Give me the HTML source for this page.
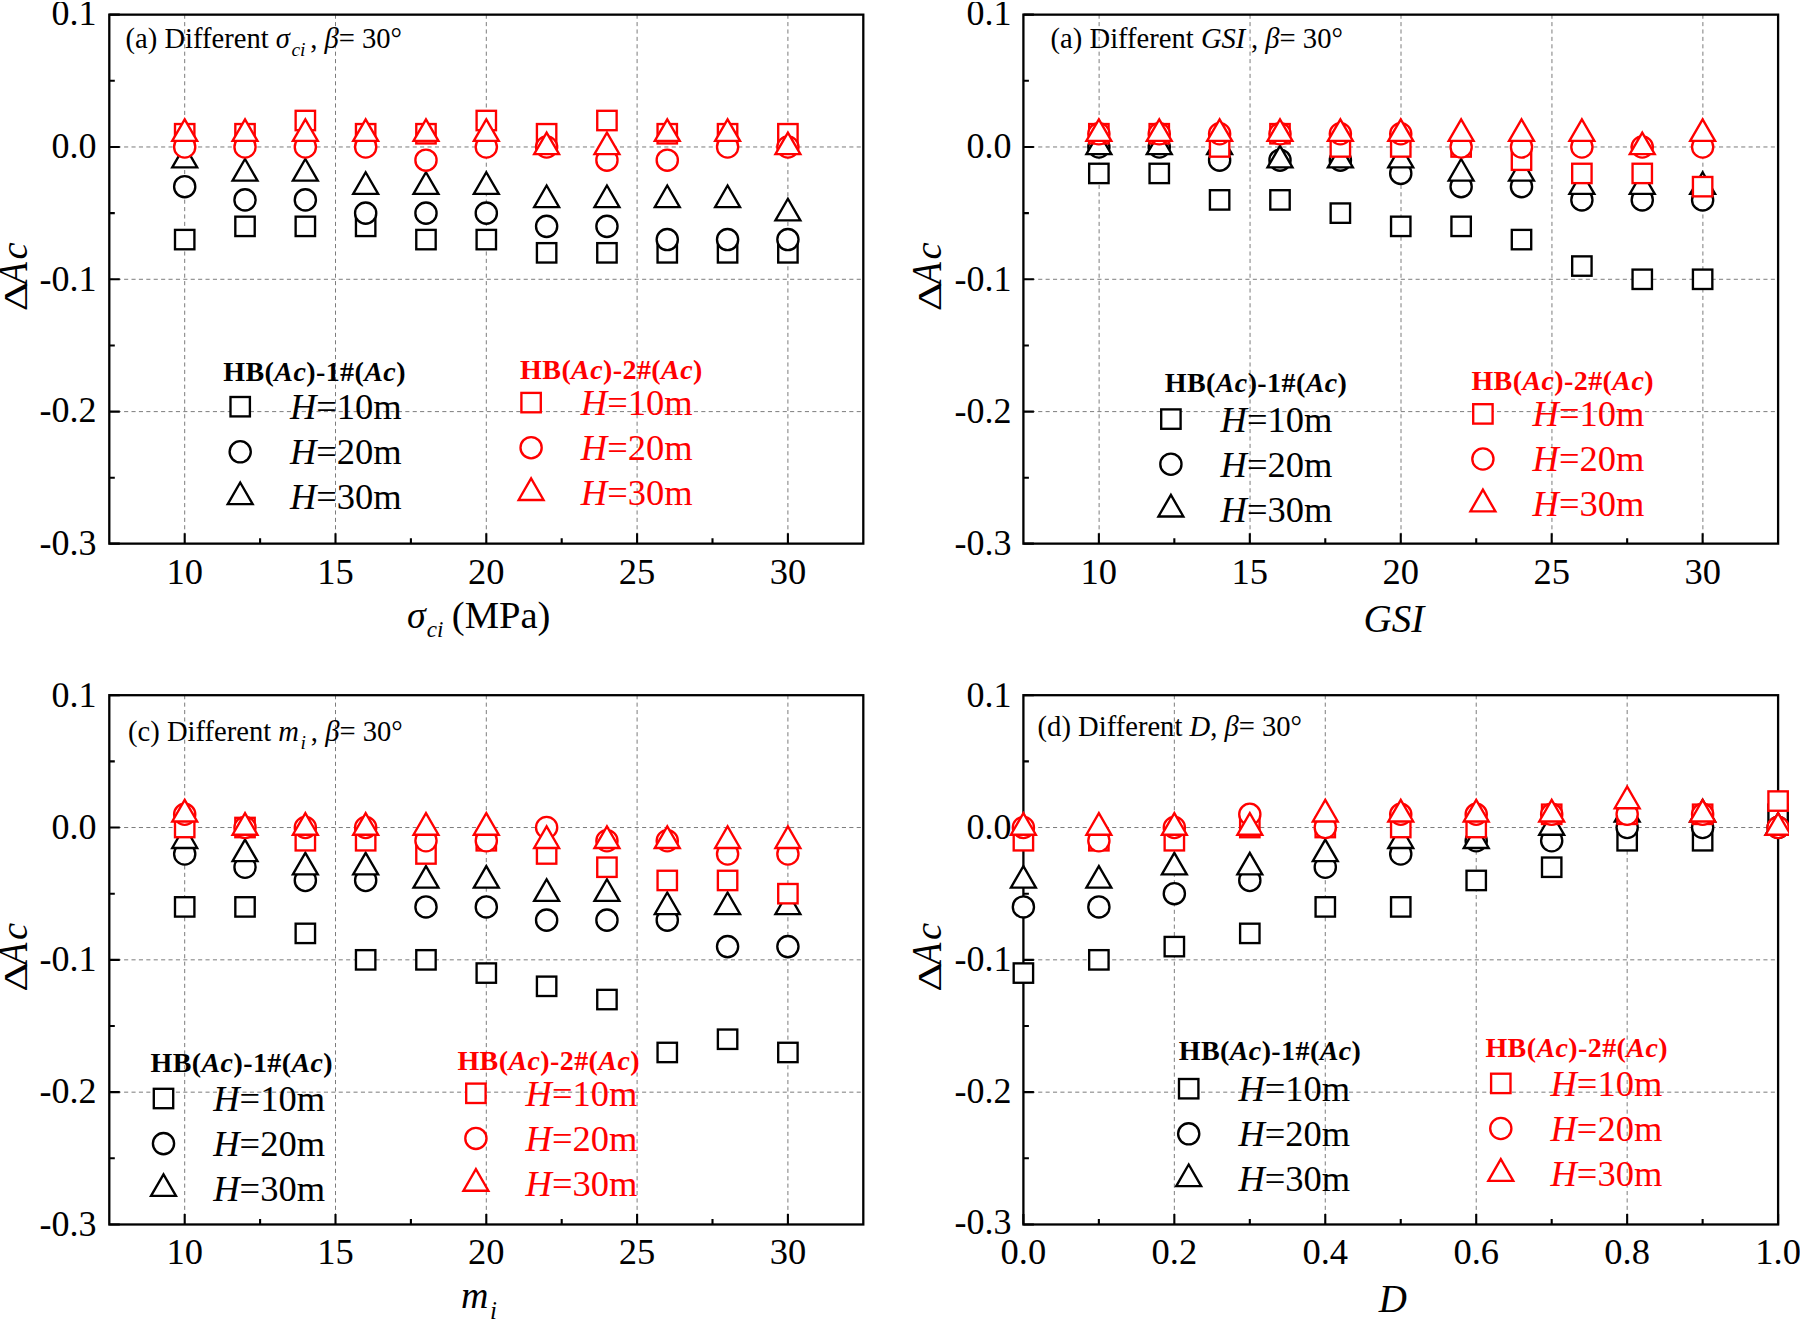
<!DOCTYPE html>
<html><head><meta charset="utf-8"><title>Figure</title>
<style>
html,body{margin:0;padding:0;background:#fff}
svg{display:block}
text{font-family:"Liberation Serif",serif;}
</style></head><body>
<svg width="1800" height="1320" viewBox="0 0 1800 1320">
<rect width="1800" height="1320" fill="#fff"/>
<defs>
<clipPath id="clip-a"><rect x="0" y="2" width="900" height="660"/></clipPath>
<clipPath id="clip-b"><rect x="900" y="2" width="900" height="660"/></clipPath>
<clipPath id="clip-c"><rect x="0" y="683.3" width="900" height="640"/></clipPath>
<clipPath id="clip-d"><rect x="900" y="683.3" width="900" height="640"/></clipPath>
<clipPath id="mclip-a"><rect x="0" y="0" width="900" height="1320"/></clipPath>
<clipPath id="mclip-b"><rect x="900" y="0" width="900" height="1320"/></clipPath>
<clipPath id="mclip-c"><rect x="0" y="0" width="900" height="1320"/></clipPath>
<clipPath id="mclip-d"><rect x="900" y="0" width="889" height="1320"/></clipPath>
</defs>

<g id="panel-a" clip-path="url(#clip-a)">
<g stroke="#7c7c7c" stroke-width="1" stroke-dasharray="4.1 3.3" fill="none">
<line x1="184.70" y1="14.65" x2="184.70" y2="543.93"/>
<line x1="335.50" y1="14.65" x2="335.50" y2="543.93"/>
<line x1="486.30" y1="14.65" x2="486.30" y2="543.93"/>
<line x1="637.10" y1="14.65" x2="637.10" y2="543.93"/>
<line x1="787.90" y1="14.65" x2="787.90" y2="543.93"/>
<line x1="109.30" y1="146.97" x2="863.30" y2="146.97"/>
<line x1="109.30" y1="279.29" x2="863.30" y2="279.29"/>
<line x1="109.30" y1="411.61" x2="863.30" y2="411.61"/>
</g>
<g stroke="#000" stroke-width="2.3" fill="none" stroke-linecap="butt">
<rect x="109.30" y="14.65" width="754.00" height="528.98"/>
<path d="M109.30 14.65h10.5M109.30 80.81h5.5M109.30 146.97h10.5M109.30 213.13h5.5M109.30 279.29h10.5M109.30 345.45h5.5M109.30 411.61h10.5M109.30 477.77h5.5M109.30 543.63h10.5M184.70 543.63v-10.5M260.10 543.63v-5.5M335.50 543.63v-10.5M410.90 543.63v-5.5M486.30 543.63v-10.5M561.70 543.63v-5.5M637.10 543.63v-10.5M712.50 543.63v-5.5M787.90 543.63v-10.5" stroke-width="2.1"/>
</g>
<g font-size="36">
<text x="96.50" y="25.15" text-anchor="end">0.1</text>
<text x="96.50" y="158.27" text-anchor="end">0.0</text>
<text x="96.50" y="290.59" text-anchor="end">-0.1</text>
<text x="96.50" y="421.91" text-anchor="end">-0.2</text>
<text x="96.50" y="555.23" text-anchor="end">-0.3</text>
<text x="184.70" y="583.83" text-anchor="middle" font-size="36.5">10</text>
<text x="335.50" y="583.83" text-anchor="middle" font-size="36.5">15</text>
<text x="486.30" y="583.83" text-anchor="middle" font-size="36.5">20</text>
<text x="637.10" y="583.83" text-anchor="middle" font-size="36.5">25</text>
<text x="787.90" y="583.83" text-anchor="middle" font-size="36.5">30</text>
</g>
<g id="yl-a">
<text transform="translate(26.60 311.25) rotate(-90) scale(1.32 1)" font-size="34.5">Δ</text>
<text transform="translate(26.60 284.25) rotate(-90) scale(0.85 1)" font-size="42.5" font-style="italic">A</text>
<text transform="translate(26.60 259.55) rotate(-90)" font-size="38.5" font-style="italic">c</text>
</g>
<g fill="#fff" stroke-width="2.35" stroke-linejoin="miter" clip-path="url(#mclip-a)">
<rect x="175.00" y="229.89" width="19.4" height="19.4" stroke="#000"/>
<rect x="235.32" y="216.66" width="19.4" height="19.4" stroke="#000"/>
<rect x="295.64" y="216.66" width="19.4" height="19.4" stroke="#000"/>
<rect x="355.96" y="216.66" width="19.4" height="19.4" stroke="#000"/>
<rect x="416.28" y="229.89" width="19.4" height="19.4" stroke="#000"/>
<rect x="476.60" y="229.89" width="19.4" height="19.4" stroke="#000"/>
<rect x="536.92" y="243.13" width="19.4" height="19.4" stroke="#000"/>
<rect x="597.24" y="243.13" width="19.4" height="19.4" stroke="#000"/>
<rect x="657.56" y="243.13" width="19.4" height="19.4" stroke="#000"/>
<rect x="717.88" y="243.13" width="19.4" height="19.4" stroke="#000"/>
<rect x="778.20" y="243.13" width="19.4" height="19.4" stroke="#000"/>
<circle cx="184.70" cy="186.67" r="10.6" stroke="#000"/>
<circle cx="245.02" cy="199.90" r="10.6" stroke="#000"/>
<circle cx="305.34" cy="199.90" r="10.6" stroke="#000"/>
<circle cx="365.66" cy="213.13" r="10.6" stroke="#000"/>
<circle cx="425.98" cy="213.13" r="10.6" stroke="#000"/>
<circle cx="486.30" cy="213.13" r="10.6" stroke="#000"/>
<circle cx="546.62" cy="226.36" r="10.6" stroke="#000"/>
<circle cx="606.94" cy="226.36" r="10.6" stroke="#000"/>
<circle cx="667.26" cy="239.59" r="10.6" stroke="#000"/>
<circle cx="727.58" cy="239.59" r="10.6" stroke="#000"/>
<circle cx="787.90" cy="239.59" r="10.6" stroke="#000"/>
<path d="M184.70 145.80L197.17 167.40L172.23 167.40Z" stroke="#000"/>
<path d="M245.02 159.03L257.49 180.63L232.55 180.63Z" stroke="#000"/>
<path d="M305.34 159.03L317.81 180.63L292.87 180.63Z" stroke="#000"/>
<path d="M365.66 172.27L378.13 193.87L353.19 193.87Z" stroke="#000"/>
<path d="M425.98 172.27L438.45 193.87L413.51 193.87Z" stroke="#000"/>
<path d="M486.30 172.27L498.77 193.87L473.83 193.87Z" stroke="#000"/>
<path d="M546.62 185.50L559.09 207.10L534.15 207.10Z" stroke="#000"/>
<path d="M606.94 185.50L619.41 207.10L594.47 207.10Z" stroke="#000"/>
<path d="M667.26 185.50L679.73 207.10L654.79 207.10Z" stroke="#000"/>
<path d="M727.58 185.50L740.05 207.10L715.11 207.10Z" stroke="#000"/>
<path d="M787.90 198.73L800.37 220.33L775.43 220.33Z" stroke="#000"/>
<rect x="175.00" y="124.04" width="19.4" height="19.4" stroke="#ff0000"/>
<rect x="235.32" y="124.04" width="19.4" height="19.4" stroke="#ff0000"/>
<rect x="295.64" y="110.81" width="19.4" height="19.4" stroke="#ff0000"/>
<rect x="355.96" y="124.04" width="19.4" height="19.4" stroke="#ff0000"/>
<rect x="416.28" y="124.04" width="19.4" height="19.4" stroke="#ff0000"/>
<rect x="476.60" y="110.81" width="19.4" height="19.4" stroke="#ff0000"/>
<rect x="536.92" y="124.04" width="19.4" height="19.4" stroke="#ff0000"/>
<rect x="597.24" y="110.81" width="19.4" height="19.4" stroke="#ff0000"/>
<rect x="657.56" y="124.04" width="19.4" height="19.4" stroke="#ff0000"/>
<rect x="717.88" y="124.04" width="19.4" height="19.4" stroke="#ff0000"/>
<rect x="778.20" y="124.04" width="19.4" height="19.4" stroke="#ff0000"/>
<circle cx="184.70" cy="146.97" r="10.6" stroke="#ff0000"/>
<circle cx="245.02" cy="146.97" r="10.6" stroke="#ff0000"/>
<circle cx="305.34" cy="146.97" r="10.6" stroke="#ff0000"/>
<circle cx="365.66" cy="146.97" r="10.6" stroke="#ff0000"/>
<circle cx="425.98" cy="160.20" r="10.6" stroke="#ff0000"/>
<circle cx="486.30" cy="146.97" r="10.6" stroke="#ff0000"/>
<circle cx="546.62" cy="146.97" r="10.6" stroke="#ff0000"/>
<circle cx="606.94" cy="160.20" r="10.6" stroke="#ff0000"/>
<circle cx="667.26" cy="160.20" r="10.6" stroke="#ff0000"/>
<circle cx="727.58" cy="146.97" r="10.6" stroke="#ff0000"/>
<circle cx="787.90" cy="146.97" r="10.6" stroke="#ff0000"/>
<path d="M184.70 119.34L197.17 140.94L172.23 140.94Z" stroke="#ff0000"/>
<path d="M245.02 119.34L257.49 140.94L232.55 140.94Z" stroke="#ff0000"/>
<path d="M305.34 119.34L317.81 140.94L292.87 140.94Z" stroke="#ff0000"/>
<path d="M365.66 119.34L378.13 140.94L353.19 140.94Z" stroke="#ff0000"/>
<path d="M425.98 119.34L438.45 140.94L413.51 140.94Z" stroke="#ff0000"/>
<path d="M486.30 119.34L498.77 140.94L473.83 140.94Z" stroke="#ff0000"/>
<path d="M546.62 132.57L559.09 154.17L534.15 154.17Z" stroke="#ff0000"/>
<path d="M606.94 132.57L619.41 154.17L594.47 154.17Z" stroke="#ff0000"/>
<path d="M667.26 119.34L679.73 140.94L654.79 140.94Z" stroke="#ff0000"/>
<path d="M727.58 119.34L740.05 140.94L715.11 140.94Z" stroke="#ff0000"/>
<path d="M787.90 132.57L800.37 154.17L775.43 154.17Z" stroke="#ff0000"/>
</g>
</g>
<g id="panel-b" clip-path="url(#clip-b)">
<g stroke="#7c7c7c" stroke-width="1" stroke-dasharray="4.1 3.3" fill="none">
<line x1="1099.12" y1="14.65" x2="1099.12" y2="543.93"/>
<line x1="1250.06" y1="14.65" x2="1250.06" y2="543.93"/>
<line x1="1401.00" y1="14.65" x2="1401.00" y2="543.93"/>
<line x1="1551.94" y1="14.65" x2="1551.94" y2="543.93"/>
<line x1="1702.88" y1="14.65" x2="1702.88" y2="543.93"/>
<line x1="1023.40" y1="146.97" x2="1778.10" y2="146.97"/>
<line x1="1023.40" y1="279.29" x2="1778.10" y2="279.29"/>
<line x1="1023.40" y1="411.61" x2="1778.10" y2="411.61"/>
</g>
<g stroke="#000" stroke-width="2.3" fill="none" stroke-linecap="butt">
<rect x="1023.40" y="14.65" width="754.70" height="528.98"/>
<path d="M1023.40 14.65h10.5M1023.40 80.81h5.5M1023.40 146.97h10.5M1023.40 213.13h5.5M1023.40 279.29h10.5M1023.40 345.45h5.5M1023.40 411.61h10.5M1023.40 477.77h5.5M1023.40 543.63h10.5M1098.87 543.63v-10.5M1174.34 543.63v-5.5M1249.81 543.63v-10.5M1325.28 543.63v-5.5M1400.75 543.63v-10.5M1476.22 543.63v-5.5M1551.69 543.63v-10.5M1627.16 543.63v-5.5M1702.63 543.63v-10.5" stroke-width="2.1"/>
</g>
<g font-size="36">
<text x="1011.40" y="25.15" text-anchor="end">0.1</text>
<text x="1011.40" y="158.27" text-anchor="end">0.0</text>
<text x="1011.40" y="290.59" text-anchor="end">-0.1</text>
<text x="1011.40" y="422.91" text-anchor="end">-0.2</text>
<text x="1011.40" y="555.23" text-anchor="end">-0.3</text>
<text x="1098.87" y="583.83" text-anchor="middle" font-size="36.5">10</text>
<text x="1249.81" y="583.83" text-anchor="middle" font-size="36.5">15</text>
<text x="1400.75" y="583.83" text-anchor="middle" font-size="36.5">20</text>
<text x="1551.69" y="583.83" text-anchor="middle" font-size="36.5">25</text>
<text x="1702.63" y="583.83" text-anchor="middle" font-size="36.5">30</text>
</g>
<g id="yl-b">
<text transform="translate(940.70 311.25) rotate(-90) scale(1.32 1)" font-size="34.5">Δ</text>
<text transform="translate(940.70 284.25) rotate(-90) scale(0.85 1)" font-size="42.5" font-style="italic">A</text>
<text transform="translate(940.70 259.55) rotate(-90)" font-size="38.5" font-style="italic">c</text>
</g>
<g fill="#fff" stroke-width="2.35" stroke-linejoin="miter" clip-path="url(#mclip-b)">
<rect x="1089.17" y="163.73" width="19.4" height="19.4" stroke="#000"/>
<rect x="1149.55" y="163.73" width="19.4" height="19.4" stroke="#000"/>
<rect x="1209.92" y="190.20" width="19.4" height="19.4" stroke="#000"/>
<rect x="1270.30" y="190.20" width="19.4" height="19.4" stroke="#000"/>
<rect x="1330.67" y="203.43" width="19.4" height="19.4" stroke="#000"/>
<rect x="1391.05" y="216.66" width="19.4" height="19.4" stroke="#000"/>
<rect x="1451.43" y="216.66" width="19.4" height="19.4" stroke="#000"/>
<rect x="1511.80" y="229.89" width="19.4" height="19.4" stroke="#000"/>
<rect x="1572.18" y="256.36" width="19.4" height="19.4" stroke="#000"/>
<rect x="1632.55" y="269.59" width="19.4" height="19.4" stroke="#000"/>
<rect x="1692.93" y="269.59" width="19.4" height="19.4" stroke="#000"/>
<circle cx="1098.87" cy="146.97" r="10.6" stroke="#000"/>
<circle cx="1159.25" cy="146.97" r="10.6" stroke="#000"/>
<circle cx="1219.62" cy="160.20" r="10.6" stroke="#000"/>
<circle cx="1280.00" cy="160.20" r="10.6" stroke="#000"/>
<circle cx="1340.37" cy="160.20" r="10.6" stroke="#000"/>
<circle cx="1400.75" cy="173.43" r="10.6" stroke="#000"/>
<circle cx="1461.13" cy="186.67" r="10.6" stroke="#000"/>
<circle cx="1521.50" cy="186.67" r="10.6" stroke="#000"/>
<circle cx="1581.88" cy="199.90" r="10.6" stroke="#000"/>
<circle cx="1642.25" cy="199.90" r="10.6" stroke="#000"/>
<circle cx="1702.63" cy="199.90" r="10.6" stroke="#000"/>
<path d="M1098.87 132.57L1111.34 154.17L1086.40 154.17Z" stroke="#000"/>
<path d="M1159.25 132.57L1171.72 154.17L1146.78 154.17Z" stroke="#000"/>
<path d="M1219.62 132.57L1232.09 154.17L1207.15 154.17Z" stroke="#000"/>
<path d="M1280.00 145.80L1292.47 167.40L1267.53 167.40Z" stroke="#000"/>
<path d="M1340.37 145.80L1352.84 167.40L1327.90 167.40Z" stroke="#000"/>
<path d="M1400.75 145.80L1413.22 167.40L1388.28 167.40Z" stroke="#000"/>
<path d="M1461.13 159.03L1473.60 180.63L1448.66 180.63Z" stroke="#000"/>
<path d="M1521.50 159.03L1533.97 180.63L1509.03 180.63Z" stroke="#000"/>
<path d="M1581.88 172.27L1594.35 193.87L1569.41 193.87Z" stroke="#000"/>
<path d="M1642.25 172.27L1654.72 193.87L1629.78 193.87Z" stroke="#000"/>
<path d="M1702.63 172.27L1715.10 193.87L1690.16 193.87Z" stroke="#000"/>
<rect x="1089.17" y="124.04" width="19.4" height="19.4" stroke="#ff0000"/>
<rect x="1149.55" y="124.04" width="19.4" height="19.4" stroke="#ff0000"/>
<rect x="1209.92" y="137.27" width="19.4" height="19.4" stroke="#ff0000"/>
<rect x="1270.30" y="124.04" width="19.4" height="19.4" stroke="#ff0000"/>
<rect x="1330.67" y="137.27" width="19.4" height="19.4" stroke="#ff0000"/>
<rect x="1391.05" y="137.27" width="19.4" height="19.4" stroke="#ff0000"/>
<rect x="1451.43" y="137.27" width="19.4" height="19.4" stroke="#ff0000"/>
<rect x="1511.80" y="150.50" width="19.4" height="19.4" stroke="#ff0000"/>
<rect x="1572.18" y="163.73" width="19.4" height="19.4" stroke="#ff0000"/>
<rect x="1632.55" y="163.73" width="19.4" height="19.4" stroke="#ff0000"/>
<rect x="1692.93" y="176.97" width="19.4" height="19.4" stroke="#ff0000"/>
<circle cx="1098.87" cy="133.74" r="10.6" stroke="#ff0000"/>
<circle cx="1159.25" cy="133.74" r="10.6" stroke="#ff0000"/>
<circle cx="1219.62" cy="133.74" r="10.6" stroke="#ff0000"/>
<circle cx="1280.00" cy="133.74" r="10.6" stroke="#ff0000"/>
<circle cx="1340.37" cy="133.74" r="10.6" stroke="#ff0000"/>
<circle cx="1400.75" cy="133.74" r="10.6" stroke="#ff0000"/>
<circle cx="1461.13" cy="146.97" r="10.6" stroke="#ff0000"/>
<circle cx="1521.50" cy="146.97" r="10.6" stroke="#ff0000"/>
<circle cx="1581.88" cy="146.97" r="10.6" stroke="#ff0000"/>
<circle cx="1642.25" cy="146.97" r="10.6" stroke="#ff0000"/>
<circle cx="1702.63" cy="146.97" r="10.6" stroke="#ff0000"/>
<path d="M1098.87 119.34L1111.34 140.94L1086.40 140.94Z" stroke="#ff0000"/>
<path d="M1159.25 119.34L1171.72 140.94L1146.78 140.94Z" stroke="#ff0000"/>
<path d="M1219.62 119.34L1232.09 140.94L1207.15 140.94Z" stroke="#ff0000"/>
<path d="M1280.00 119.34L1292.47 140.94L1267.53 140.94Z" stroke="#ff0000"/>
<path d="M1340.37 119.34L1352.84 140.94L1327.90 140.94Z" stroke="#ff0000"/>
<path d="M1400.75 119.34L1413.22 140.94L1388.28 140.94Z" stroke="#ff0000"/>
<path d="M1461.13 119.34L1473.60 140.94L1448.66 140.94Z" stroke="#ff0000"/>
<path d="M1521.50 119.34L1533.97 140.94L1509.03 140.94Z" stroke="#ff0000"/>
<path d="M1581.88 119.34L1594.35 140.94L1569.41 140.94Z" stroke="#ff0000"/>
<path d="M1642.25 132.57L1654.72 154.17L1629.78 154.17Z" stroke="#ff0000"/>
<path d="M1702.63 119.34L1715.10 140.94L1690.16 140.94Z" stroke="#ff0000"/>
</g>
</g>
<g id="panel-c" clip-path="url(#clip-c)">
<g stroke="#7c7c7c" stroke-width="1" stroke-dasharray="4.1 3.3" fill="none">
<line x1="184.70" y1="695.20" x2="184.70" y2="1224.48"/>
<line x1="335.50" y1="695.20" x2="335.50" y2="1224.48"/>
<line x1="486.30" y1="695.20" x2="486.30" y2="1224.48"/>
<line x1="637.10" y1="695.20" x2="637.10" y2="1224.48"/>
<line x1="787.90" y1="695.20" x2="787.90" y2="1224.48"/>
<line x1="109.30" y1="827.52" x2="863.30" y2="827.52"/>
<line x1="109.30" y1="959.84" x2="863.30" y2="959.84"/>
<line x1="109.30" y1="1092.16" x2="863.30" y2="1092.16"/>
</g>
<g stroke="#000" stroke-width="2.3" fill="none" stroke-linecap="butt">
<rect x="109.30" y="695.20" width="754.00" height="529.28"/>
<path d="M109.30 695.20h10.5M109.30 761.36h5.5M109.30 827.52h10.5M109.30 893.68h5.5M109.30 959.84h10.5M109.30 1026.00h5.5M109.30 1092.16h10.5M109.30 1158.32h5.5M109.30 1224.48h10.5M184.70 1224.48v-10.5M260.10 1224.48v-5.5M335.50 1224.48v-10.5M410.90 1224.48v-5.5M486.30 1224.48v-10.5M561.70 1224.48v-5.5M637.10 1224.48v-10.5M712.50 1224.48v-5.5M787.90 1224.48v-10.5" stroke-width="2.1"/>
</g>
<g font-size="36">
<text x="96.50" y="706.50" text-anchor="end">0.1</text>
<text x="96.50" y="838.82" text-anchor="end">0.0</text>
<text x="96.50" y="971.14" text-anchor="end">-0.1</text>
<text x="96.50" y="1103.46" text-anchor="end">-0.2</text>
<text x="96.50" y="1235.78" text-anchor="end">-0.3</text>
<text x="184.70" y="1264.38" text-anchor="middle" font-size="36.5">10</text>
<text x="335.50" y="1264.38" text-anchor="middle" font-size="36.5">15</text>
<text x="486.30" y="1264.38" text-anchor="middle" font-size="36.5">20</text>
<text x="637.10" y="1264.38" text-anchor="middle" font-size="36.5">25</text>
<text x="787.90" y="1264.38" text-anchor="middle" font-size="36.5">30</text>
</g>
<g id="yl-c">
<text transform="translate(26.60 991.80) rotate(-90) scale(1.32 1)" font-size="34.5">Δ</text>
<text transform="translate(26.60 964.80) rotate(-90) scale(0.85 1)" font-size="42.5" font-style="italic">A</text>
<text transform="translate(26.60 940.10) rotate(-90)" font-size="38.5" font-style="italic">c</text>
</g>
<g fill="#fff" stroke-width="2.35" stroke-linejoin="miter" clip-path="url(#mclip-c)">
<rect x="175.00" y="897.21" width="19.4" height="19.4" stroke="#000"/>
<rect x="235.32" y="897.21" width="19.4" height="19.4" stroke="#000"/>
<rect x="295.64" y="923.68" width="19.4" height="19.4" stroke="#000"/>
<rect x="355.96" y="950.14" width="19.4" height="19.4" stroke="#000"/>
<rect x="416.28" y="950.14" width="19.4" height="19.4" stroke="#000"/>
<rect x="476.60" y="963.37" width="19.4" height="19.4" stroke="#000"/>
<rect x="536.92" y="976.60" width="19.4" height="19.4" stroke="#000"/>
<rect x="597.24" y="989.84" width="19.4" height="19.4" stroke="#000"/>
<rect x="657.56" y="1042.76" width="19.4" height="19.4" stroke="#000"/>
<rect x="717.88" y="1029.53" width="19.4" height="19.4" stroke="#000"/>
<rect x="778.20" y="1042.76" width="19.4" height="19.4" stroke="#000"/>
<circle cx="184.70" cy="853.98" r="10.6" stroke="#000"/>
<circle cx="245.02" cy="867.22" r="10.6" stroke="#000"/>
<circle cx="305.34" cy="880.45" r="10.6" stroke="#000"/>
<circle cx="365.66" cy="880.45" r="10.6" stroke="#000"/>
<circle cx="425.98" cy="906.91" r="10.6" stroke="#000"/>
<circle cx="486.30" cy="906.91" r="10.6" stroke="#000"/>
<circle cx="546.62" cy="920.14" r="10.6" stroke="#000"/>
<circle cx="606.94" cy="920.14" r="10.6" stroke="#000"/>
<circle cx="667.26" cy="920.14" r="10.6" stroke="#000"/>
<circle cx="727.58" cy="946.61" r="10.6" stroke="#000"/>
<circle cx="787.90" cy="946.61" r="10.6" stroke="#000"/>
<path d="M184.70 826.35L197.17 847.95L172.23 847.95Z" stroke="#000"/>
<path d="M245.02 839.58L257.49 861.18L232.55 861.18Z" stroke="#000"/>
<path d="M305.34 852.82L317.81 874.42L292.87 874.42Z" stroke="#000"/>
<path d="M365.66 852.82L378.13 874.42L353.19 874.42Z" stroke="#000"/>
<path d="M425.98 866.05L438.45 887.65L413.51 887.65Z" stroke="#000"/>
<path d="M486.30 866.05L498.77 887.65L473.83 887.65Z" stroke="#000"/>
<path d="M546.62 879.28L559.09 900.88L534.15 900.88Z" stroke="#000"/>
<path d="M606.94 879.28L619.41 900.88L594.47 900.88Z" stroke="#000"/>
<path d="M667.26 892.51L679.73 914.11L654.79 914.11Z" stroke="#000"/>
<path d="M727.58 892.51L740.05 914.11L715.11 914.11Z" stroke="#000"/>
<path d="M787.90 892.51L800.37 914.11L775.43 914.11Z" stroke="#000"/>
<rect x="175.00" y="817.82" width="19.4" height="19.4" stroke="#ff0000"/>
<rect x="235.32" y="817.82" width="19.4" height="19.4" stroke="#ff0000"/>
<rect x="295.64" y="831.05" width="19.4" height="19.4" stroke="#ff0000"/>
<rect x="355.96" y="831.05" width="19.4" height="19.4" stroke="#ff0000"/>
<rect x="416.28" y="844.28" width="19.4" height="19.4" stroke="#ff0000"/>
<rect x="476.60" y="831.05" width="19.4" height="19.4" stroke="#ff0000"/>
<rect x="536.92" y="844.28" width="19.4" height="19.4" stroke="#ff0000"/>
<rect x="597.24" y="857.52" width="19.4" height="19.4" stroke="#ff0000"/>
<rect x="657.56" y="870.75" width="19.4" height="19.4" stroke="#ff0000"/>
<rect x="717.88" y="870.75" width="19.4" height="19.4" stroke="#ff0000"/>
<rect x="778.20" y="883.98" width="19.4" height="19.4" stroke="#ff0000"/>
<circle cx="184.70" cy="814.29" r="10.6" stroke="#ff0000"/>
<circle cx="245.02" cy="827.52" r="10.6" stroke="#ff0000"/>
<circle cx="305.34" cy="827.52" r="10.6" stroke="#ff0000"/>
<circle cx="365.66" cy="827.52" r="10.6" stroke="#ff0000"/>
<circle cx="425.98" cy="840.75" r="10.6" stroke="#ff0000"/>
<circle cx="486.30" cy="840.75" r="10.6" stroke="#ff0000"/>
<circle cx="546.62" cy="827.52" r="10.6" stroke="#ff0000"/>
<circle cx="606.94" cy="840.75" r="10.6" stroke="#ff0000"/>
<circle cx="667.26" cy="840.75" r="10.6" stroke="#ff0000"/>
<circle cx="727.58" cy="853.98" r="10.6" stroke="#ff0000"/>
<circle cx="787.90" cy="853.98" r="10.6" stroke="#ff0000"/>
<path d="M184.70 799.89L197.17 821.49L172.23 821.49Z" stroke="#ff0000"/>
<path d="M245.02 813.12L257.49 834.72L232.55 834.72Z" stroke="#ff0000"/>
<path d="M305.34 813.12L317.81 834.72L292.87 834.72Z" stroke="#ff0000"/>
<path d="M365.66 813.12L378.13 834.72L353.19 834.72Z" stroke="#ff0000"/>
<path d="M425.98 813.12L438.45 834.72L413.51 834.72Z" stroke="#ff0000"/>
<path d="M486.30 813.12L498.77 834.72L473.83 834.72Z" stroke="#ff0000"/>
<path d="M546.62 826.35L559.09 847.95L534.15 847.95Z" stroke="#ff0000"/>
<path d="M606.94 826.35L619.41 847.95L594.47 847.95Z" stroke="#ff0000"/>
<path d="M667.26 826.35L679.73 847.95L654.79 847.95Z" stroke="#ff0000"/>
<path d="M727.58 826.35L740.05 847.95L715.11 847.95Z" stroke="#ff0000"/>
<path d="M787.90 826.35L800.37 847.95L775.43 847.95Z" stroke="#ff0000"/>
</g>
</g>
<g id="panel-d" clip-path="url(#clip-d)">
<g stroke="#7c7c7c" stroke-width="1" stroke-dasharray="4.1 3.3" fill="none">
<line x1="1174.34" y1="695.20" x2="1174.34" y2="1224.48"/>
<line x1="1325.28" y1="695.20" x2="1325.28" y2="1224.48"/>
<line x1="1476.22" y1="695.20" x2="1476.22" y2="1224.48"/>
<line x1="1627.16" y1="695.20" x2="1627.16" y2="1224.48"/>
<line x1="1023.40" y1="827.52" x2="1778.10" y2="827.52"/>
<line x1="1023.40" y1="959.84" x2="1778.10" y2="959.84"/>
<line x1="1023.40" y1="1092.16" x2="1778.10" y2="1092.16"/>
</g>
<g stroke="#000" stroke-width="2.3" fill="none" stroke-linecap="butt">
<rect x="1023.40" y="695.20" width="754.70" height="529.28"/>
<path d="M1023.40 695.20h10.5M1023.40 761.36h5.5M1023.40 827.52h10.5M1023.40 893.68h5.5M1023.40 959.84h10.5M1023.40 1026.00h5.5M1023.40 1092.16h10.5M1023.40 1158.32h5.5M1023.40 1224.48h10.5M1023.40 1224.48v-10.5M1098.87 1224.48v-5.5M1174.34 1224.48v-10.5M1249.81 1224.48v-5.5M1325.28 1224.48v-10.5M1400.75 1224.48v-5.5M1476.22 1224.48v-10.5M1551.69 1224.48v-5.5M1627.16 1224.48v-10.5M1702.63 1224.48v-5.5M1778.10 1224.48v-10.5" stroke-width="2.1"/>
</g>
<g font-size="36">
<text x="1011.40" y="706.50" text-anchor="end">0.1</text>
<text x="1011.40" y="838.82" text-anchor="end">0.0</text>
<text x="1011.40" y="971.14" text-anchor="end">-0.1</text>
<text x="1011.40" y="1103.46" text-anchor="end">-0.2</text>
<text x="1011.40" y="1234.48" text-anchor="end">-0.3</text>
<text x="1023.40" y="1264.38" text-anchor="middle" font-size="36.5">0.0</text>
<text x="1174.34" y="1264.38" text-anchor="middle" font-size="36.5">0.2</text>
<text x="1325.28" y="1264.38" text-anchor="middle" font-size="36.5">0.4</text>
<text x="1476.22" y="1264.38" text-anchor="middle" font-size="36.5">0.6</text>
<text x="1627.16" y="1264.38" text-anchor="middle" font-size="36.5">0.8</text>
<text x="1778.10" y="1264.38" text-anchor="middle" font-size="36.5">1.0</text>
</g>
<g id="yl-d">
<text transform="translate(940.70 991.80) rotate(-90) scale(1.32 1)" font-size="34.5">Δ</text>
<text transform="translate(940.70 964.80) rotate(-90) scale(0.85 1)" font-size="42.5" font-style="italic">A</text>
<text transform="translate(940.70 940.10) rotate(-90)" font-size="38.5" font-style="italic">c</text>
</g>
<g fill="#fff" stroke-width="2.35" stroke-linejoin="miter" clip-path="url(#mclip-d)">
<rect x="1013.70" y="963.37" width="19.4" height="19.4" stroke="#000"/>
<rect x="1089.17" y="950.14" width="19.4" height="19.4" stroke="#000"/>
<rect x="1164.64" y="936.91" width="19.4" height="19.4" stroke="#000"/>
<rect x="1240.11" y="923.68" width="19.4" height="19.4" stroke="#000"/>
<rect x="1315.58" y="897.21" width="19.4" height="19.4" stroke="#000"/>
<rect x="1391.05" y="897.21" width="19.4" height="19.4" stroke="#000"/>
<rect x="1466.52" y="870.75" width="19.4" height="19.4" stroke="#000"/>
<rect x="1541.99" y="857.52" width="19.4" height="19.4" stroke="#000"/>
<rect x="1617.46" y="831.05" width="19.4" height="19.4" stroke="#000"/>
<rect x="1692.93" y="831.05" width="19.4" height="19.4" stroke="#000"/>
<rect x="1768.40" y="804.59" width="19.4" height="19.4" stroke="#000"/>
<circle cx="1023.40" cy="906.91" r="10.6" stroke="#000"/>
<circle cx="1098.87" cy="906.91" r="10.6" stroke="#000"/>
<circle cx="1174.34" cy="893.68" r="10.6" stroke="#000"/>
<circle cx="1249.81" cy="880.45" r="10.6" stroke="#000"/>
<circle cx="1325.28" cy="867.22" r="10.6" stroke="#000"/>
<circle cx="1400.75" cy="853.98" r="10.6" stroke="#000"/>
<circle cx="1476.22" cy="840.75" r="10.6" stroke="#000"/>
<circle cx="1551.69" cy="840.75" r="10.6" stroke="#000"/>
<circle cx="1627.16" cy="827.52" r="10.6" stroke="#000"/>
<circle cx="1702.63" cy="827.52" r="10.6" stroke="#000"/>
<circle cx="1778.10" cy="827.52" r="10.6" stroke="#000"/>
<path d="M1023.40 866.05L1035.87 887.65L1010.93 887.65Z" stroke="#000"/>
<path d="M1098.87 866.05L1111.34 887.65L1086.40 887.65Z" stroke="#000"/>
<path d="M1174.34 852.82L1186.81 874.42L1161.87 874.42Z" stroke="#000"/>
<path d="M1249.81 852.82L1262.28 874.42L1237.34 874.42Z" stroke="#000"/>
<path d="M1325.28 839.58L1337.75 861.18L1312.81 861.18Z" stroke="#000"/>
<path d="M1400.75 826.35L1413.22 847.95L1388.28 847.95Z" stroke="#000"/>
<path d="M1476.22 826.35L1488.69 847.95L1463.75 847.95Z" stroke="#000"/>
<path d="M1551.69 813.12L1564.16 834.72L1539.22 834.72Z" stroke="#000"/>
<path d="M1627.16 799.89L1639.63 821.49L1614.69 821.49Z" stroke="#000"/>
<path d="M1702.63 799.89L1715.10 821.49L1690.16 821.49Z" stroke="#000"/>
<path d="M1778.10 813.12L1790.57 834.72L1765.63 834.72Z" stroke="#000"/>
<rect x="1013.70" y="831.05" width="19.4" height="19.4" stroke="#ff0000"/>
<rect x="1089.17" y="831.05" width="19.4" height="19.4" stroke="#ff0000"/>
<rect x="1164.64" y="831.05" width="19.4" height="19.4" stroke="#ff0000"/>
<rect x="1240.11" y="817.82" width="19.4" height="19.4" stroke="#ff0000"/>
<rect x="1315.58" y="817.82" width="19.4" height="19.4" stroke="#ff0000"/>
<rect x="1391.05" y="817.82" width="19.4" height="19.4" stroke="#ff0000"/>
<rect x="1466.52" y="817.82" width="19.4" height="19.4" stroke="#ff0000"/>
<rect x="1541.99" y="804.59" width="19.4" height="19.4" stroke="#ff0000"/>
<rect x="1617.46" y="804.59" width="19.4" height="19.4" stroke="#ff0000"/>
<rect x="1692.93" y="804.59" width="19.4" height="19.4" stroke="#ff0000"/>
<rect x="1768.40" y="791.36" width="19.4" height="19.4" stroke="#ff0000"/>
<circle cx="1023.40" cy="827.52" r="10.6" stroke="#ff0000"/>
<circle cx="1098.87" cy="840.75" r="10.6" stroke="#ff0000"/>
<circle cx="1174.34" cy="827.52" r="10.6" stroke="#ff0000"/>
<circle cx="1249.81" cy="814.29" r="10.6" stroke="#ff0000"/>
<circle cx="1325.28" cy="827.52" r="10.6" stroke="#ff0000"/>
<circle cx="1400.75" cy="814.29" r="10.6" stroke="#ff0000"/>
<circle cx="1476.22" cy="814.29" r="10.6" stroke="#ff0000"/>
<circle cx="1551.69" cy="814.29" r="10.6" stroke="#ff0000"/>
<circle cx="1627.16" cy="814.29" r="10.6" stroke="#ff0000"/>
<circle cx="1702.63" cy="814.29" r="10.6" stroke="#ff0000"/>
<circle cx="1778.10" cy="827.52" r="10.6" stroke="#ff0000"/>
<path d="M1023.40 813.12L1035.87 834.72L1010.93 834.72Z" stroke="#ff0000"/>
<path d="M1098.87 813.12L1111.34 834.72L1086.40 834.72Z" stroke="#ff0000"/>
<path d="M1174.34 813.12L1186.81 834.72L1161.87 834.72Z" stroke="#ff0000"/>
<path d="M1249.81 813.12L1262.28 834.72L1237.34 834.72Z" stroke="#ff0000"/>
<path d="M1325.28 799.89L1337.75 821.49L1312.81 821.49Z" stroke="#ff0000"/>
<path d="M1400.75 799.89L1413.22 821.49L1388.28 821.49Z" stroke="#ff0000"/>
<path d="M1476.22 799.89L1488.69 821.49L1463.75 821.49Z" stroke="#ff0000"/>
<path d="M1551.69 799.89L1564.16 821.49L1539.22 821.49Z" stroke="#ff0000"/>
<path d="M1627.16 786.66L1639.63 808.26L1614.69 808.26Z" stroke="#ff0000"/>
<path d="M1702.63 799.89L1715.10 821.49L1690.16 821.49Z" stroke="#ff0000"/>
<path d="M1778.10 813.12L1790.57 834.72L1765.63 834.72Z" stroke="#ff0000"/>
</g>
</g>
<text x="125.50" y="48.00" font-size="28.6">(a) Different <tspan font-style="italic">σ</tspan><tspan font-style="italic" font-size="19.5" dy="8" dx="1.5">ci</tspan><tspan dy="-8" dx="-2.5"> , </tspan><tspan font-style="italic">β</tspan>= 30°</text>
<text x="1050.60" y="48.30" font-size="28.6">(a) Different <tspan font-style="italic">GSI</tspan><tspan dx="-1.5"> , </tspan><tspan font-style="italic">β</tspan>= 30°</text>
<text x="128.00" y="740.70" font-size="28.6">(c) Different <tspan font-style="italic">m</tspan><tspan font-style="italic" font-size="19.5" dy="8" dx="1.5">i</tspan><tspan dy="-8" dx="-2.2"> , </tspan><tspan font-style="italic">β</tspan>= 30°</text>
<text x="1037.60" y="736.00" font-size="28.6">(d) Different <tspan font-style="italic">D</tspan>, <tspan font-style="italic">β</tspan>= 30°</text>
<text x="407" y="627.6" font-size="38"><tspan font-style="italic">σ</tspan><tspan font-style="italic" font-size="23" dy="9.7" dx="1">ci</tspan><tspan dy="-9.7" dx="8.5" font-size="38.6">(MPa)</tspan></text>
<text x="1393.8" y="632.3" font-size="39" font-style="italic" text-anchor="middle">GSI</text>
<text x="461" y="1307.6" font-size="38"><tspan font-style="italic">m</tspan><tspan font-style="italic" font-size="25" dy="11" dx="1.5">i</tspan></text>
<text x="1392.8" y="1311.8" font-size="39" font-style="italic" text-anchor="middle">D</text>
<g fill="#000">
<text x="223.30" y="380.80" font-size="28" font-weight="bold" textLength="182.2" lengthAdjust="spacing">HB(<tspan font-style="italic">Ac</tspan>)-1#(<tspan font-style="italic">Ac</tspan>)</text>
<text x="289.90" y="418.90" font-size="36.5"><tspan font-style="italic">H</tspan>=10m</text>
<text x="289.90" y="464.00" font-size="36.5"><tspan font-style="italic">H</tspan>=20m</text>
<text x="289.90" y="509.10" font-size="36.5"><tspan font-style="italic">H</tspan>=30m</text>
</g>
<g fill="#fff" stroke-width="2.35">
<rect x="230.50" y="397.00" width="19.4" height="19.4" stroke="#000"/>
<circle cx="240.20" cy="451.80" r="10.6" stroke="#000"/>
<path d="M240.20 482.50L252.67 504.10L227.73 504.10Z" stroke="#000"/>
</g>
<g fill="#ff0000">
<text x="520.10" y="378.60" font-size="28" font-weight="bold" textLength="182.2" lengthAdjust="spacing">HB(<tspan font-style="italic">Ac</tspan>)-2#(<tspan font-style="italic">Ac</tspan>)</text>
<text x="580.80" y="414.60" font-size="36.5"><tspan font-style="italic">H</tspan>=10m</text>
<text x="580.80" y="459.70" font-size="36.5"><tspan font-style="italic">H</tspan>=20m</text>
<text x="580.80" y="504.80" font-size="36.5"><tspan font-style="italic">H</tspan>=30m</text>
</g>
<g fill="#fff" stroke-width="2.35">
<rect x="521.40" y="392.90" width="19.4" height="19.4" stroke="#ff0000"/>
<circle cx="531.10" cy="447.70" r="10.6" stroke="#ff0000"/>
<path d="M531.10 478.40L543.57 500.00L518.63 500.00Z" stroke="#ff0000"/>
</g>
<g fill="#000">
<text x="1164.70" y="392.00" font-size="28" font-weight="bold" textLength="182.2" lengthAdjust="spacing">HB(<tspan font-style="italic">Ac</tspan>)-1#(<tspan font-style="italic">Ac</tspan>)</text>
<text x="1220.60" y="432.00" font-size="36.5"><tspan font-style="italic">H</tspan>=10m</text>
<text x="1220.60" y="477.10" font-size="36.5"><tspan font-style="italic">H</tspan>=20m</text>
<text x="1220.60" y="522.20" font-size="36.5"><tspan font-style="italic">H</tspan>=30m</text>
</g>
<g fill="#fff" stroke-width="2.35">
<rect x="1161.20" y="409.40" width="19.4" height="19.4" stroke="#000"/>
<circle cx="1170.90" cy="464.20" r="10.6" stroke="#000"/>
<path d="M1170.90 494.90L1183.37 516.50L1158.43 516.50Z" stroke="#000"/>
</g>
<g fill="#ff0000">
<text x="1471.40" y="389.90" font-size="28" font-weight="bold" textLength="182.2" lengthAdjust="spacing">HB(<tspan font-style="italic">Ac</tspan>)-2#(<tspan font-style="italic">Ac</tspan>)</text>
<text x="1532.60" y="425.70" font-size="36.5"><tspan font-style="italic">H</tspan>=10m</text>
<text x="1532.60" y="470.80" font-size="36.5"><tspan font-style="italic">H</tspan>=20m</text>
<text x="1532.60" y="515.90" font-size="36.5"><tspan font-style="italic">H</tspan>=30m</text>
</g>
<g fill="#fff" stroke-width="2.35">
<rect x="1473.20" y="404.20" width="19.4" height="19.4" stroke="#ff0000"/>
<circle cx="1482.90" cy="459.00" r="10.6" stroke="#ff0000"/>
<path d="M1482.90 489.70L1495.37 511.30L1470.43 511.30Z" stroke="#ff0000"/>
</g>
<g fill="#000">
<text x="150.50" y="1071.70" font-size="28" font-weight="bold" textLength="182.2" lengthAdjust="spacing">HB(<tspan font-style="italic">Ac</tspan>)-1#(<tspan font-style="italic">Ac</tspan>)</text>
<text x="213.20" y="1111.00" font-size="36.5"><tspan font-style="italic">H</tspan>=10m</text>
<text x="213.20" y="1156.10" font-size="36.5"><tspan font-style="italic">H</tspan>=20m</text>
<text x="213.20" y="1201.20" font-size="36.5"><tspan font-style="italic">H</tspan>=30m</text>
</g>
<g fill="#fff" stroke-width="2.35">
<rect x="153.80" y="1088.80" width="19.4" height="19.4" stroke="#000"/>
<circle cx="163.50" cy="1143.60" r="10.6" stroke="#000"/>
<path d="M163.50 1174.30L175.97 1195.90L151.03 1195.90Z" stroke="#000"/>
</g>
<g fill="#ff0000">
<text x="457.40" y="1069.70" font-size="28" font-weight="bold" textLength="182.2" lengthAdjust="spacing">HB(<tspan font-style="italic">Ac</tspan>)-2#(<tspan font-style="italic">Ac</tspan>)</text>
<text x="525.60" y="1105.70" font-size="36.5"><tspan font-style="italic">H</tspan>=10m</text>
<text x="525.60" y="1150.80" font-size="36.5"><tspan font-style="italic">H</tspan>=20m</text>
<text x="525.60" y="1195.90" font-size="36.5"><tspan font-style="italic">H</tspan>=30m</text>
</g>
<g fill="#fff" stroke-width="2.35">
<rect x="466.20" y="1083.60" width="19.4" height="19.4" stroke="#ff0000"/>
<circle cx="475.90" cy="1138.40" r="10.6" stroke="#ff0000"/>
<path d="M475.90 1169.10L488.37 1190.70L463.43 1190.70Z" stroke="#ff0000"/>
</g>
<g fill="#000">
<text x="1178.70" y="1059.90" font-size="28" font-weight="bold" textLength="182.2" lengthAdjust="spacing">HB(<tspan font-style="italic">Ac</tspan>)-1#(<tspan font-style="italic">Ac</tspan>)</text>
<text x="1238.40" y="1100.70" font-size="36.5"><tspan font-style="italic">H</tspan>=10m</text>
<text x="1238.40" y="1145.80" font-size="36.5"><tspan font-style="italic">H</tspan>=20m</text>
<text x="1238.40" y="1190.90" font-size="36.5"><tspan font-style="italic">H</tspan>=30m</text>
</g>
<g fill="#fff" stroke-width="2.35">
<rect x="1179.00" y="1079.00" width="19.4" height="19.4" stroke="#000"/>
<circle cx="1188.70" cy="1133.80" r="10.6" stroke="#000"/>
<path d="M1188.70 1164.50L1201.17 1186.10L1176.23 1186.10Z" stroke="#000"/>
</g>
<g fill="#ff0000">
<text x="1485.40" y="1057.30" font-size="28" font-weight="bold" textLength="182.2" lengthAdjust="spacing">HB(<tspan font-style="italic">Ac</tspan>)-2#(<tspan font-style="italic">Ac</tspan>)</text>
<text x="1550.50" y="1095.70" font-size="36.5"><tspan font-style="italic">H</tspan>=10m</text>
<text x="1550.50" y="1140.80" font-size="36.5"><tspan font-style="italic">H</tspan>=20m</text>
<text x="1550.50" y="1185.90" font-size="36.5"><tspan font-style="italic">H</tspan>=30m</text>
</g>
<g fill="#fff" stroke-width="2.35">
<rect x="1491.10" y="1073.70" width="19.4" height="19.4" stroke="#ff0000"/>
<circle cx="1500.80" cy="1128.50" r="10.6" stroke="#ff0000"/>
<path d="M1500.80 1159.20L1513.27 1180.80L1488.33 1180.80Z" stroke="#ff0000"/>
</g>
</svg></body></html>
